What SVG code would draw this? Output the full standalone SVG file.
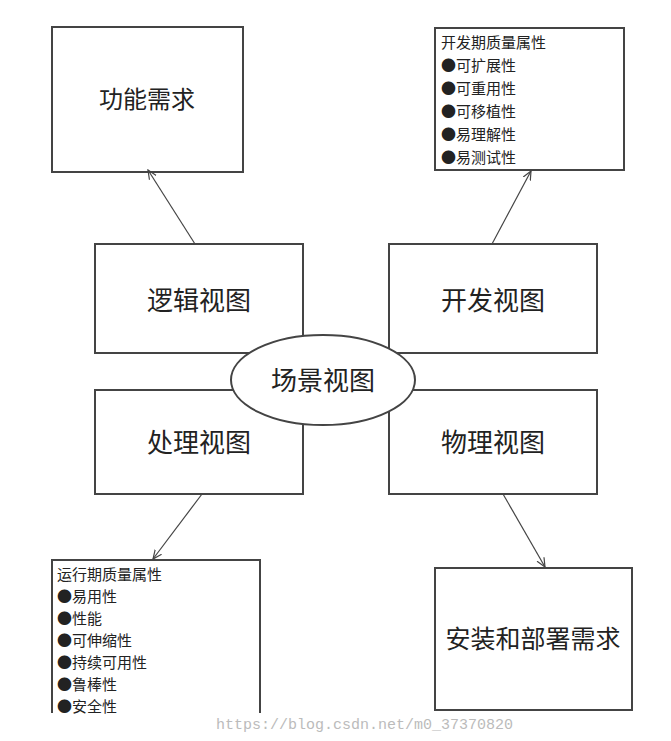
<svg xmlns="http://www.w3.org/2000/svg" width="671" height="741" viewBox="0 0 671 741">
<style>
.b{fill:#fff;stroke:#444;stroke-width:2}
.t{font-family:"Noto Sans CJK SC",sans-serif;fill:#222;text-anchor:middle}
.l{font-family:"Noto Sans CJK SC",sans-serif;fill:#222;font-size:15px}
.c{stroke:#444;stroke-width:1.2;fill:none;marker-end:url(#a)}
</style>
<defs><marker id="a" markerWidth="10" markerHeight="10" refX="9" refY="5" orient="auto" markerUnits="userSpaceOnUse"><path d="M0,1 L9,5 L0,9" fill="none" stroke="#444" stroke-width="1.2"/></marker></defs>
<rect width="671" height="741" fill="#fff"/>
<g id="func"><rect class="b" x="52" y="27" width="191" height="145"/><text class="t" x="147" y="108" font-size="24">功能需求</text></g>
<g id="devq"><rect class="b" x="435" y="28" width="189" height="142"/>
<text class="l" x="441" y="48">开发期质量属性</text>
<text class="l" x="441" y="71">●可扩展性</text>
<text class="l" x="441" y="94">●可重用性</text>
<text class="l" x="441" y="117">●可移植性</text>
<text class="l" x="441" y="140">●易理解性</text>
<text class="l" x="441" y="163">●易测试性</text></g>
<g id="logic"><rect class="b" x="95" y="244" width="208" height="109"/><text class="t" x="199" y="310" font-size="26">逻辑视图</text></g>
<g id="dev"><rect class="b" x="389" y="244" width="208" height="109"/><text class="t" x="493" y="310" font-size="26">开发视图</text></g>
<g id="proc"><rect class="b" x="95" y="390" width="208" height="104"/><text class="t" x="199" y="452" font-size="26">处理视图</text></g>
<g id="phys"><rect class="b" x="389" y="390" width="208" height="104"/><text class="t" x="493" y="452" font-size="26">物理视图</text></g>
<g id="scene"><ellipse class="b" cx="323" cy="380" rx="92" ry="45"/><text class="t" x="323" y="390" font-size="26">场景视图</text></g>
<g id="runq"><path d="M52,713 V560 H260 V713" class="b"/>
<text class="l" x="57" y="580">运行期质量属性</text>
<text class="l" x="57" y="602">●易用性</text>
<text class="l" x="57" y="624">●性能</text>
<text class="l" x="57" y="646">●可伸缩性</text>
<text class="l" x="57" y="668">●持续可用性</text>
<text class="l" x="57" y="690">●鲁棒性</text>
<text class="l" x="57" y="712">●安全性</text></g>
<g id="deploy"><rect class="b" x="435" y="568" width="197" height="142"/><text class="t" x="533" y="648" font-size="25">安装和部署需求</text></g>
<g id="connectors">
<line class="c" x1="195" y1="244" x2="148" y2="170"/>
<line class="c" x1="492" y1="244" x2="531" y2="171"/>
<line class="c" x1="202" y1="494" x2="153" y2="559"/>
<line class="c" x1="503" y1="494" x2="545" y2="567"/>
</g>
<text x="513" y="729" font-family="Liberation Mono,monospace" font-size="15" fill="#bbb" text-anchor="end">https://blog.csdn.net/m0_37370820</text>
</svg>
